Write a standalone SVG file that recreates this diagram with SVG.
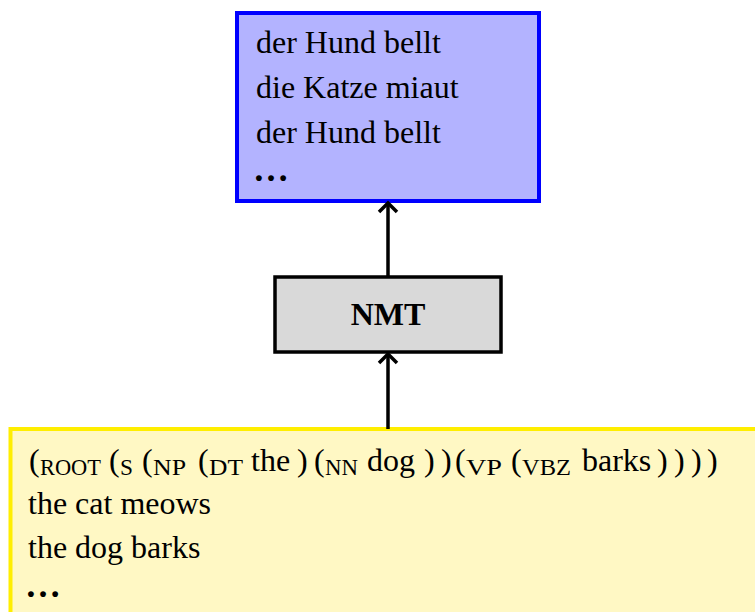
<svg xmlns="http://www.w3.org/2000/svg" width="755" height="612" viewBox="0 0 755 612">
<style>
text{font-family:"Liberation Serif","Times New Roman",serif;fill:#000}
.t{font-size:32px}
.lb{font-size:23px}
.dots{font-size:36px;font-weight:bold}
.conn line,.conn polyline{stroke:#000;stroke-width:3.5;fill:none}
</style>
<rect width="755" height="612" fill="#fff"/>
<g id="output">
<rect x="237" y="13" width="302" height="188" fill="#b3b3ff" stroke="#0000ff" stroke-width="4"/>
<text class="t" x="256" y="53">der Hund bellt</text>
<text class="t" x="256" y="98">die Katze miaut</text>
<text class="t" x="256" y="143">der Hund bellt</text>
<text class="t dots" x="253" y="181">…</text>
</g>
<g id="nmt">
<rect x="275" y="277" width="226" height="75" fill="#d9d9d9" stroke="#000" stroke-width="3.5"/>
<text class="t" x="388" y="325" text-anchor="middle" font-weight="bold">NMT</text>
</g>
<g id="input">
<rect x="10.5" y="429" width="760" height="200" fill="#fff8c4" stroke="#ffee00" stroke-width="4"/>
<text class="t"><tspan x="29" y="471">(</tspan><tspan class="lb" x="40" y="475" textLength="61" lengthAdjust="spacingAndGlyphs">ROOT</tspan><tspan x="109" y="471">(</tspan><tspan class="lb" x="120" y="475" textLength="13" lengthAdjust="spacingAndGlyphs">S</tspan><tspan x="142" y="471">(</tspan><tspan class="lb" x="153" y="475" textLength="33" lengthAdjust="spacingAndGlyphs">NP</tspan><tspan x="198" y="471">(</tspan><tspan class="lb" x="209" y="475" textLength="34" lengthAdjust="spacingAndGlyphs">DT</tspan><tspan x="251" y="471">the</tspan><tspan x="297" y="471">)</tspan><tspan x="314" y="471">(</tspan><tspan class="lb" x="325" y="475" textLength="33" lengthAdjust="spacingAndGlyphs">NN</tspan><tspan x="367" y="471">dog</tspan><tspan x="424" y="471">)</tspan><tspan x="441" y="471">)</tspan><tspan x="455" y="471">(</tspan><tspan class="lb" x="466" y="475" textLength="36" lengthAdjust="spacingAndGlyphs">VP</tspan><tspan x="511" y="471">(</tspan><tspan class="lb" x="522" y="475" textLength="49" lengthAdjust="spacingAndGlyphs">VBZ</tspan><tspan x="582" y="471">barks</tspan><tspan x="657" y="471">)</tspan><tspan x="674" y="471">)</tspan><tspan x="691" y="471">)</tspan><tspan x="707" y="471">)</tspan></text>
<text class="t" x="28" y="514">the cat meows</text>
<text class="t" x="28" y="558">the dog barks</text>
<text class="t dots" x="25" y="597">…</text>
</g>
<g class="conn" id="connectors">
<line x1="388" y1="277" x2="388" y2="203"/>
<polyline points="379,212 388,203 397,212"/>
<line x1="388" y1="429" x2="388" y2="354"/>
<polyline points="379,363 388,354 397,363"/>
</g>
</svg>
